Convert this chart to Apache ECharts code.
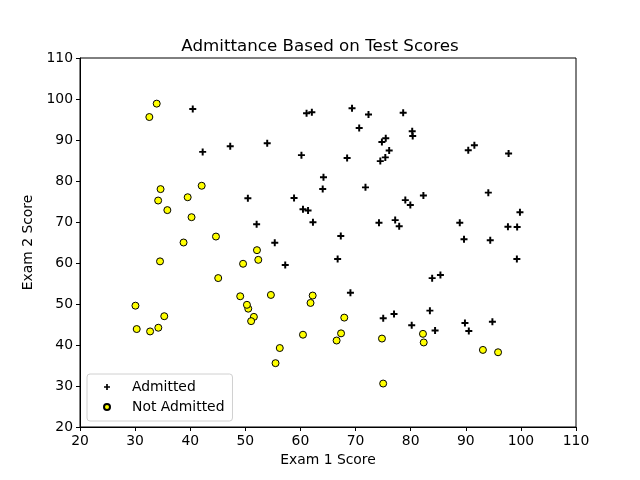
<!DOCTYPE html>
<html>
<head>
<meta charset="utf-8">
<script src="https://cdn.jsdelivr.net/npm/echarts@6/dist/echarts.min.js"></script>
<style>html,body{margin:0;padding:0;background:#fff}#c{width:640px;height:480px}</style>
</head>
<body>
<div id="c"></div>
<script>
const titleText = "Admittance Based on Test Scores";
const xName = "Exam 1 Score";
const yName = "Exam 2 Score";
const seriesNames = ["Admitted", "Not Admitted"];

const admittedX = [60.18,79.03,61.11,75.02,76.10,84.43,82.31,69.36,53.97,69.07,70.66,76.98,89.68,77.92,62.27,80.19,61.38,85.40,52.05,64.18,83.90,94.44,77.19,97.77,62.07,91.56,79.94,99.27,90.55,97.65,74.25,71.80,75.40,40.46,80.28,66.75,64.04,72.35,60.46,58.84,99.83,47.26,50.46,88.91,94.83,67.32,57.24,80.37,68.47,75.48,78.64,94.09,90.45,74.49,89.85,83.49,42.26,99.32,55.34,74.78];
const admittedY = [86.31,75.34,96.51,46.55,87.42,43.53,76.48,97.72,89.21,52.74,92.93,47.58,65.80,68.97,69.95,44.82,72.81,57.05,69.43,80.91,56.31,65.57,70.46,86.73,96.77,88.70,74.16,61.00,43.39,68.86,69.82,78.45,85.76,97.54,92.12,60.99,78.03,96.23,73.09,75.86,72.37,88.48,75.81,69.80,45.69,66.59,59.51,90.96,85.59,90.42,96.65,77.16,87.51,84.85,45.36,48.38,87.10,68.78,64.93,89.53];
const notAdmittedX = [34.62,30.29,35.85,45.08,95.86,75.01,39.54,67.95,67.37,50.53,34.21,93.11,61.83,38.79,52.11,40.24,54.64,33.92,74.79,34.18,51.55,82.37,51.05,62.22,34.52,50.29,49.59,32.58,35.29,56.25,30.06,44.67,66.56,49.07,32.72,60.46,82.23,42.08,52.35,55.48];
const notAdmittedY = [78.02,43.89,72.90,56.32,38.23,30.60,76.04,46.68,42.84,48.86,44.21,38.80,50.26,65.00,63.13,71.17,52.21,98.87,41.57,75.24,46.86,40.62,45.82,52.06,60.40,49.80,59.81,95.60,47.02,39.26,49.59,66.45,41.09,51.88,43.31,42.51,42.72,78.84,60.77,35.57];

const pair = (xs, ys) => xs.map((x, i) => [x, ys[i]]);
const font = "DejaVu Sans";
const plusPath = 'path://M3.6,0H6.4V3.6H10V6.4H6.4V10H3.6V6.4H0V3.6H3.6Z';

const chart = echarts.init(document.getElementById('c'), null, {renderer: 'canvas'});
const axisCommon = {
  min: 20, max: 110, interval: 10,
  axisLine: {show: true, onZero: false, lineStyle: {color: '#000', width: 1}},
  axisTick: {show: true, inside: false, length: 4, lineStyle: {color: '#000'}},
  axisLabel: {color: '#000', fontFamily: font, fontSize: 13.9, margin: 7},
  splitLine: {show: false},
  nameLocation: 'middle',
  nameTextStyle: {color: '#000', fontFamily: font, fontSize: 13.9}
};
chart.setOption({
  animation: false,
  backgroundColor: '#fff',
  title: {text: titleText, left: 'center', top: 33,
    textStyle: {fontFamily: font, fontSize: 16.7, fontWeight: 'normal', color: '#000'}},
  grid: {left: 80, right: 64, top: 58, bottom: 53, show: true, borderColor: '#000', borderWidth: 1, backgroundColor: 'transparent'},
  xAxis: Object.assign({}, axisCommon, {type: 'value', name: xName, nameGap: 26}),
  yAxis: Object.assign({}, axisCommon, {type: 'value', name: yName, nameGap: 38}),
  legend: {
    orient: 'vertical', left: 87, top: 374,
    padding: [5, 8, 6, 16], itemGap: 4,
    borderColor: '#d0d0d0', borderWidth: 1, borderRadius: 3,
    backgroundColor: 'rgba(255,255,255,0.8)',
    itemWidth: 6, itemHeight: 6,
    textStyle: {fontFamily: font, fontSize: 13.9, color: '#000', lineHeight: 16, padding: [0, 0, 0, 17]},
    data: [
      {name: seriesNames[0], icon: plusPath, itemStyle: {color: '#000'}},
      {name: seriesNames[1], icon: 'circle'}
    ]
  },
  series: [
    {name: seriesNames[0], type: 'scatter', data: pair(admittedX, admittedY),
      symbol: plusPath, symbolSize: 7, itemStyle: {color: '#000', opacity: 1}},
    {name: seriesNames[1], type: 'scatter', data: pair(notAdmittedX, notAdmittedY),
      symbol: 'circle', symbolSize: 7, itemStyle: {color: '#ffff00', borderColor: '#000', borderWidth: 1, opacity: 1}}
  ]
});
</script>
</body>
</html>
